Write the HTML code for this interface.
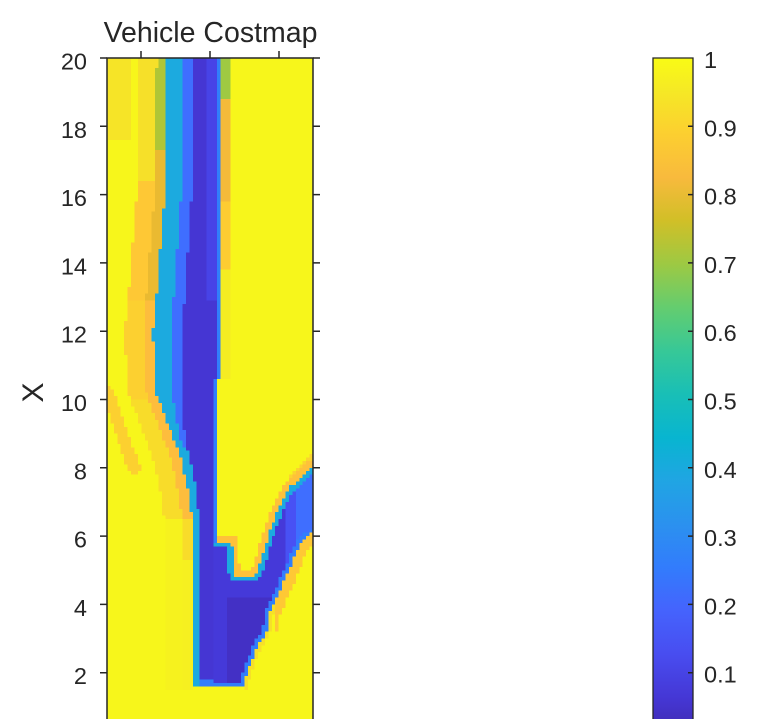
<!DOCTYPE html>
<html><head><meta charset="utf-8">
<style>
html,body{margin:0;padding:0;background:#fff;width:784px;height:719px;overflow:hidden;}
body{position:relative;font-family:"Liberation Sans",Arial,sans-serif;color:#262626;}
#wrap{position:absolute;left:0;top:0;width:784px;height:719px;overflow:hidden;}
#hmclip{position:absolute;left:107px;top:58px;width:206px;height:661px;overflow:hidden;background:#f9fb15;}
#hm{position:absolute;left:0;top:0;width:206px;height:683px;image-rendering:pixelated;}
#cb{position:absolute;left:653px;top:58px;width:40px;height:661px;background-repeat:no-repeat;background-size:40px 683px;background-position:0 0;
background-image:linear-gradient(to top,
rgb(62,38,168) 0%,rgb(69,55,213) 6.35%,rgb(72,77,240) 12.7%,rgb(69,99,253) 19.05%,
rgb(50,124,252) 25.4%,rgb(43,145,239) 31.7%,rgb(32,165,227) 38.1%,rgb(8,181,208) 44.4%,
rgb(25,191,182) 50.8%,rgb(55,200,151) 57.1%,rgb(100,205,111) 63.5%,rgb(157,201,67) 69.8%,
rgb(209,191,39) 76.2%,rgb(248,186,61) 82.5%,rgb(252,207,48) 88.9%,rgb(245,233,37) 95.2%,rgb(249,251,21) 100%);}
svg{position:absolute;left:0;top:0;}
</style></head><body>
<div id="wrap">
<div id="hmclip"><canvas id="hm" width="60" height="200"></canvas></div>
<div id="cb"></div>
<svg width="784" height="719" xmlns="http://www.w3.org/2000/svg">
<g stroke="#262626" stroke-width="1.5" fill="none">
<path d="M107,57.25 V719 M313,57.25 V719 M106.25,58 H313.75"/>
<path d="M100,126.3 H107 M100,194.6 H107 M100,262.9 H107 M100,331.2 H107 M100,399.5 H107 M100,467.8 H107 M100,536.1 H107 M100,604.4 H107 M100,672.7 H107 M100,58 H107"/>
<path d="M313,126.3 H320 M313,194.6 H320 M313,262.9 H320 M313,331.2 H320 M313,399.5 H320 M313,467.8 H320 M313,536.1 H320 M313,604.4 H320 M313,672.7 H320 M313,58 H320"/>
<path d="M141,58 V51 M210,58 V51 M279,58 V51"/>
<path d="M653,719 V58 H693 V719" stroke-width="1.3"/>
<path d="M688,126.3 H693 M688,194.6 H693 M688,262.9 H693 M688,331.2 H693 M688,399.5 H693 M688,467.8 H693 M688,536.1 H693 M688,604.4 H693 M688,672.7 H693"/>
</g>
<g fill="#262626" font-family="Liberation Sans, Arial, sans-serif" font-size="23.5">
<g text-anchor="end">
<text x="87" y="69.5">20</text>
<text x="87" y="137.8">18</text>
<text x="87" y="206.1">16</text>
<text x="87" y="274.4">14</text>
<text x="87" y="342.7">12</text>
<text x="87" y="411">10</text>
<text x="87" y="479.3">8</text>
<text x="87" y="547.6">6</text>
<text x="87" y="615.9">4</text>
<text x="87" y="684.2">2</text>
</g>
<text x="704" y="68">1</text>
<text x="704" y="136.3">0.9</text>
<text x="704" y="204.6">0.8</text>
<text x="704" y="272.9">0.7</text>
<text x="704" y="341.2">0.6</text>
<text x="704" y="409.5">0.5</text>
<text x="704" y="477.8">0.4</text>
<text x="704" y="546.1">0.3</text>
<text x="704" y="614.4">0.2</text>
<text x="704" y="682.7">0.1</text>
</g>
<text x="210.5" y="42" text-anchor="middle" font-family="Liberation Sans, Arial, sans-serif" font-size="28.5" fill="#262626">Vehicle Costmap</text>
<text transform="translate(43,392.5) rotate(-90)" text-anchor="middle" font-family="Liberation Sans, Arial, sans-serif" font-size="30" fill="#262626">X</text>
</svg>
</div>
<script>
const P=[[0.2422,0.1504,0.6603],[0.2504,0.1650,0.7076],[0.2578,0.1818,0.7511],[0.2647,0.1978,0.7952],[0.2706,0.2147,0.8364],[0.2751,0.2342,0.8710],[0.2783,0.2559,0.8991],[0.2803,0.2782,0.9221],[0.2813,0.3006,0.9414],[0.2810,0.3228,0.9579],[0.2795,0.3447,0.9717],[0.2760,0.3667,0.9829],[0.2699,0.3892,0.9906],[0.2602,0.4123,0.9952],[0.2440,0.4358,0.9988],[0.2206,0.4603,0.9973],[0.1963,0.4847,0.9892],[0.1834,0.5074,0.9798],[0.1786,0.5289,0.9682],[0.1764,0.5499,0.9520],[0.1687,0.5703,0.9359],[0.1540,0.5902,0.9218],[0.1460,0.6091,0.9079],[0.1380,0.6276,0.8973],[0.1248,0.6459,0.8883],[0.1113,0.6635,0.8763],[0.0952,0.6798,0.8598],[0.0689,0.6948,0.8394],[0.0297,0.7082,0.8163],[0.0036,0.7203,0.7917],[0.0067,0.7312,0.7660],[0.0433,0.7411,0.7394],[0.0964,0.7500,0.7120],[0.1408,0.7584,0.6842],[0.1717,0.7670,0.6554],[0.1938,0.7758,0.6251],[0.2161,0.7843,0.5923],[0.2470,0.7918,0.5567],[0.2906,0.7973,0.5188],[0.3406,0.8008,0.4789],[0.3909,0.8029,0.4354],[0.4456,0.8024,0.3909],[0.5044,0.7993,0.3480],[0.5616,0.7942,0.3045],[0.6174,0.7876,0.2612],[0.6720,0.7793,0.2227],[0.7242,0.7698,0.1910],[0.7738,0.7598,0.1646],[0.8203,0.7498,0.1535],[0.8634,0.7406,0.1596],[0.9035,0.7330,0.1774],[0.9393,0.7288,0.2100],[0.9728,0.7298,0.2394],[0.9956,0.7434,0.2371],[0.9970,0.7659,0.2199],[0.9952,0.7893,0.2028],[0.9892,0.8136,0.1885],[0.9807,0.8380,0.1758],[0.9705,0.8633,0.1651],[0.9640,0.8883,0.1546],[0.9603,0.9127,0.1432],[0.9626,0.9374,0.1276],[0.9691,0.9630,0.1086],[0.9769,0.9839,0.0805]];
function cmap(v){v=Math.max(0,Math.min(1,v));const f=v*63;const i=Math.min(62,Math.floor(f));const t=f-i;const a=P[i],b=P[i+1];return [0,1,2].map(k=>Math.round(255*(a[k]+(b[k]-a[k])*t)));}
function L(pts,t){if(t<=pts[0][0])return pts[0][1];for(let i=1;i<pts.length;i++){if(t<=pts[i][0]){const a=pts[i-1],b=pts[i];return a[1]+(b[1]-a[1])*(t-a[0])/(b[0]-a[0]);}}return pts[pts.length-1][1];}
function segDist(px,py,ax,ay,bx,by){const dx=bx-ax,dy=by-ay;const l2=dx*dx+dy*dy;let t=l2?((px-ax)*dx+(py-ay)*dy)/l2:0;t=Math.max(0,Math.min(1,t));const ex=ax+t*dx-px,ey=ay+t*dy-py;return Math.sqrt(ex*ex+ey*ey);}
function polyDist(pts,x,y){let m=1e9;for(let i=1;i<pts.length;i++){m=Math.min(m,segDist(x,y,pts[i-1][0],pts[i-1][1],pts[i][0],pts[i][1]));}return m;}
const cLp=[[55,167],[190,165],[290,157],[330,153],[390,155],[430,170],[455,180],[490,188],[525,193],[800,193]];
const dLp=[[55,192],[190,192],[290,185],[330,183],[400,182],[440,185],[470,193],[500,197],[525,200],[800,200]];
const IN=[[214,542],[232,542],[234,577],[255,577],[262,558],[270,530],[280,505],[290,487],[300,478],[310,468],[320,462]];
const OUT=[[195,688],[243,688],[247,673],[252,660],[257,647],[262,640],[267,630],[270,613],[277,597],[283,583],[290,567],[297,550],[303,540],[310,535],[320,530]];
function yellow(x,y,cl){
  let v=0.985;
  if(x<cl&&y<=690){
    const d=cl-x;
    if(d<10){v=y<150?0.72:y<300?0.8:y<520?0.84:y<560?0.92:0.97;}
    else if(d<28){v=y<180?0.93:y<300?0.87:y<400?0.89:y<520?0.92:0.975;}
  }
  if(x<130&&y<140)v=Math.min(v,0.94);
  if(segDist(x,y,108,392,134,468)<6)v=Math.min(v,0.89);
  if(y<380&&x>=217&&x<229){const f=y<100?0.7:y<200?0.82:y<270?0.88:0.96;v=Math.min(v,f);}
  if(x>=214){
    const ib=L(IN,x),ob=L(OUT,x);
    if(y<ib){const d=polyDist(IN,x,y);if(d<6)v=Math.min(v,0.85);else if(d<10&&x>290)v=Math.min(v,0.9);}
    if(y>ob){const d=polyDist(OUT,x,y);if(x>276&&d<10)v=Math.min(v,0.87);else if(d<4&&x>245)v=Math.min(v,0.93);}
  }
  return v;
}
function val(x,y){
  const cl=L(cLp,y),dl=L(dLp,y);
  const dr=y<380?217:214;
  if(y<=688&&x>=cl){
    if(x<dl){const mid=cl+0.62*(dl-cl);return (x<mid||dl-cl<10)?0.4:0.22;}
    if(x<dr){if(y>681)return 0.26;return (y<300&&x>208)?0.1:0.06;}
  }
  if(x>=dr&&y<=688){
    const ib=L(IN,x),ob=L(OUT,x);
    if(y>=ib&&y<=ob){
      const dout=polyDist(OUT,x,y),din=polyDist(IN,x,y);
      if(dout<4.5)return 0.26;
      if(din<5)return 0.4;
      if(x>296)return 0.22;
      if(x>286)return 0.14;
      if(x>228&&y>598)return 0.04;
      return 0.07;
    }
    if(y<ib&&x<dr+3.6)return 0.26;
  }
  return yellow(x,y,cl);
}
(function(){
  const c=document.getElementById('hm');const ctx=c.getContext('2d');
  const W=60,H=200;const img=ctx.createImageData(W,H);
  const cw=206/W,ch=683/H;
  for(let r=0;r<H;r++){
    const y=58+(r+0.5)*ch;
    for(let q=0;q<W;q++){
      const x=107+(q+0.5)*cw;
      const col=cmap(val(x,y));
      const o=(r*W+q)*4;
      img.data[o]=col[0];img.data[o+1]=col[1];img.data[o+2]=col[2];img.data[o+3]=255;
    }
  }
  ctx.putImageData(img,0,0);
})();
</script>
</body></html>
